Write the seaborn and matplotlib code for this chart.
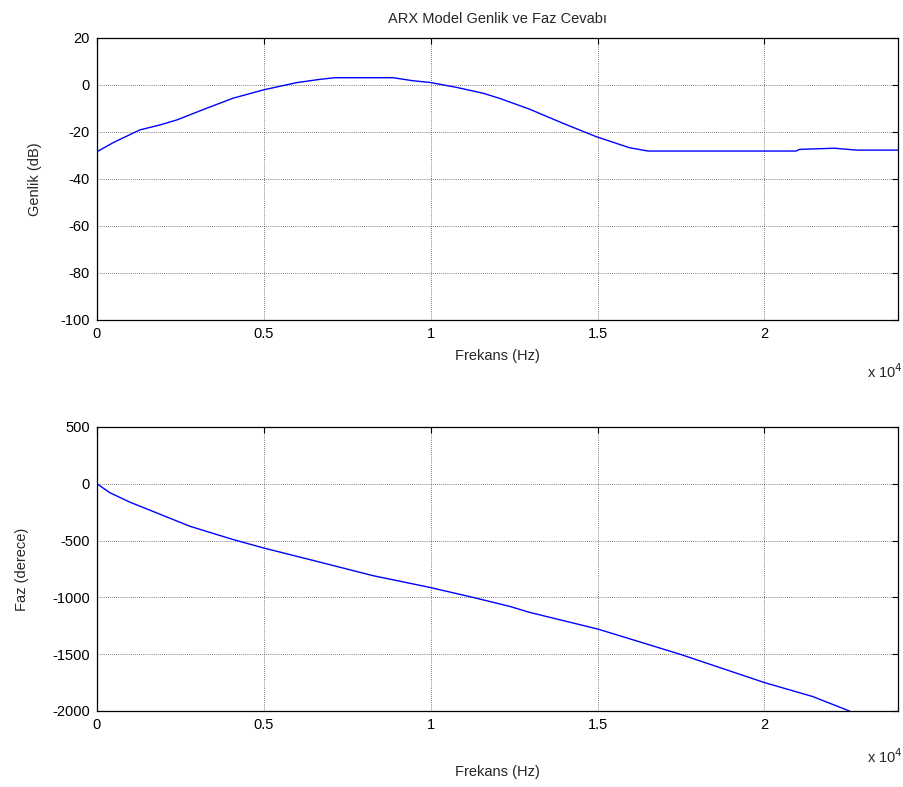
import numpy as np
import pandas as pd
import matplotlib
matplotlib.use("Agg")
import matplotlib.pyplot as plt
import seaborn as sns

# Magnitude response (Hz, dB)
mag_freq = [0, 488, 1287, 1886, 2386, 3284, 4082, 4980, 5978, 6677, 7126, 8872,
            9470, 9970, 10769, 11567, 12066, 12964, 13962, 14960, 15958, 16507,
            20948, 21048, 22096, 22745, 24000]
mag_db = [-28.4, -24.5, -19.1, -17.0, -14.9, -9.9, -5.6, -2.1, 1.0, 2.4, 3.1, 3.1,
          1.8, 1.1, -1.0, -3.5, -5.7, -10.3, -16.3, -22.0, -26.7, -28.1,
          -28.1, -27.4, -26.9, -27.7, -27.7]

# Phase response (Hz, degrees)
ph_freq = [0, 389, 988, 1787, 2784, 4082, 4980, 6776, 8273, 9970, 11267, 12365,
           12964, 15010, 17455, 20000, 21447, 22545]
ph_deg = [0, -79, -162, -256, -374, -491, -564, -697, -809, -912, -1000, -1079,
          -1132, -1279, -1499, -1750, -1873, -2000]

xticks = [0, 5000, 10000, 15000, 20000]
xtick_labels = ["0", "0.5", "1", "1.5", "2"]
mag_yticks = [20, 0, -20, -40, -60, -80, -100]
ph_yticks = [500, 0, -500, -1000, -1500, -2000]

sns.set_style("white")
plt.rcParams["font.family"] = ["Liberation Sans", "DejaVu Sans"]
plt.rcParams["font.size"] = 10
plt.rcParams["axes.unicode_minus"] = False

fig = plt.figure(figsize=(9.04, 7.87), dpi=100)
W, H = 904, 787
ax1 = fig.add_axes([97 / W, 1 - 320 / H, 801 / W, 282 / H])
ax2 = fig.add_axes([97 / W, 1 - 711 / H, 801 / W, 284 / H])

df_mag = pd.DataFrame({"f": mag_freq, "v": mag_db})
df_ph = pd.DataFrame({"f": ph_freq, "v": ph_deg})

sns.lineplot(data=df_mag, x="f", y="v", ax=ax1, color="#0000ff", lw=1.0)
sns.lineplot(data=df_ph, x="f", y="v", ax=ax2, color="#0000ff", lw=1.0)

for ax, yt, ylim in [(ax1, mag_yticks, (-100, 20)), (ax2, ph_yticks, (-2000, 500))]:
    ax.set_xlim(0, 24000)
    ax.set_ylim(*ylim)
    ax.set_xticks(xticks)
    ax.set_xticklabels(xtick_labels)
    ax.set_yticks(yt)
    ax.grid(True, color="#555555", linestyle=(0, (1, 1.5)), linewidth=0.6)
    ax.tick_params(direction="in", length=4, width=0.8, top=True, right=True,
                   labelsize=10.5, colors="black", pad=5)
    for s in ax.spines.values():
        s.set_visible(True)
        s.set_color("black")
        s.set_linewidth(0.9)

ax1.set_xlabel("Frekans (Hz)", fontsize=10.5, labelpad=6)
ax1.set_ylabel("Genlik (dB)", fontsize=10.5, labelpad=13)
ax2.set_xlabel("Frekans (Hz)", fontsize=10.5, labelpad=24)
ax2.set_ylabel("Faz (derece)", fontsize=10.5, labelpad=17)
ax1.set_title("ARX Model Genlik ve Faz Cevabı", fontsize=10.5, pad=11)

fig.text(885 / W, 1 - 372 / H, r"x 10$^4$", fontsize=10.5, ha="center", va="center")
fig.text(885 / W, 1 - 757 / H, r"x 10$^4$", fontsize=10.5, ha="center", va="center")

fig.savefig("out.png", dpi=100)
